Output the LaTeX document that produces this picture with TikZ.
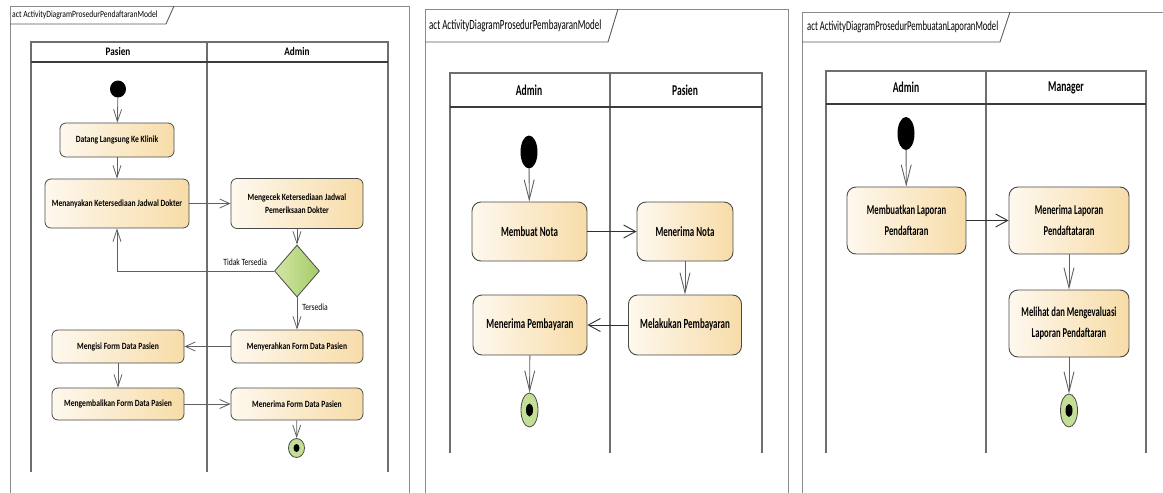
\documentclass[tikz,border=0pt]{standalone}
\usepackage{fontspec}
\setmainfont{Carlito}
\newfontfamily\pA[FakeStretch=0.8]{Carlito}
\newfontfamily\pB[FakeStretch=0.64]{Carlito}
\usetikzlibrary{shapes.geometric,arrows.meta}

\definecolor{frameGray}{HTML}{8A8A8A}
\definecolor{tabGray}{HTML}{5A5A5A}
\definecolor{laneGray}{HTML}{6E6E6E}
\definecolor{headGray}{HTML}{3C3C3C}
\definecolor{boxLine}{HTML}{4A4A4A}
\definecolor{actL}{HTML}{FEF8EE}
\definecolor{actR}{HTML}{F7DCA8}
\definecolor{decL}{HTML}{D3E7A6}
\definecolor{decR}{HTML}{A4CB66}
\definecolor{endGreen}{HTML}{C2DF95}
\definecolor{flowGray}{HTML}{606060}
\definecolor{flowDark}{HTML}{303030}

\tikzset{
  frame/.style={draw=frameGray, line width=1pt},
  tab/.style={draw=tabGray, line width=0.9pt},
  lane/.style={draw=laneGray, line width=1.2pt},
  lanehead/.style={draw=headGray, line width=1.8pt},
  titleA/.style={anchor=west, inner sep=0pt, font=\pA\fontsize{9.5}{11}\selectfont},
  titleB/.style={anchor=west, inner sep=0pt, font=\pB\fontsize{14}{16}\selectfont},
  headA/.style={inner sep=0pt, font=\pA\bfseries\fontsize{11.5}{13}\selectfont},
  headB/.style={inner sep=0pt, font=\pB\bfseries\fontsize{15}{17}\selectfont},
  actA/.style={rectangle, rounded corners=6pt, draw=boxLine, line width=0.8pt,
    left color=actL, right color=actR, align=center, inner sep=1pt,
    font=\pA\bfseries\fontsize{9.5}{13}\selectfont},
  actB/.style={rectangle, rounded corners=9pt, draw=boxLine, line width=0.9pt,
    left color=actL, right color=actR, align=center, inner sep=1pt,
    font=\pB\bfseries\fontsize{14}{21}\selectfont},
  initial/.style={ellipse, fill=black, inner sep=0pt},
  finalA/.style={ellipse, draw=boxLine, line width=0.8pt, fill=endGreen, inner sep=0pt,
    path picture={\fill[black] (path picture bounding box.center) ellipse (3pt and 4pt);}},
  finalB/.style={ellipse, draw=boxLine, line width=0.8pt, fill=endGreen, inner sep=0pt,
    path picture={\fill[black] (path picture bounding box.center) ellipse (3.5pt and 6.5pt);}},
  decision/.style={diamond, draw=boxLine, line width=0.8pt, left color=decL, right color=decR,
    inner sep=0pt},
  guard/.style={inner sep=1pt, font=\pA\fontsize{9.5}{11}\selectfont},
  flowA/.style={draw=flowGray, line width=0.8pt, -{Straight Barb[length=12pt,width=8pt]}},
  flowAh/.style={draw=flowGray, line width=0.8pt, -{Straight Barb[length=10pt,width=9pt]}},
  flowBv/.style={draw=flowGray, line width=0.9pt, -{Straight Barb[length=20pt,width=10pt]}},
  flowBh/.style={draw=flowDark, line width=0.9pt, -{Straight Barb[length=12pt,width=13pt]}},
}

\begin{document}
\begin{tikzpicture}[x=1pt, y=-1pt]
\useasboundingbox (0,0) rectangle (1163,493);

% ---------------- Registration procedure ----------------
\draw[frame] (10,493) -- (10,6) -- (409,6) -- (409,493);
\draw[tab] (10,24) -- (166,24) -- (174,6);
\node[titleA] (t1) at (12,15) {act ActivityDiagramProsedurPendaftaranModel};

\draw[lane] (31,472) -- (31,42) -- (388,42) -- (388,472);
\draw[lane] (207,42) -- (207,472);
\draw[lanehead] (31,62) -- (388,62);
\node[headA] (h1a) at (118,52) {Pasien};
\node[headA] (h1b) at (297,52) {Admin};

\node[initial, minimum width=16pt, minimum height=17pt] (s1) at (118,89) {};
\node[actA, minimum width=114pt, minimum height=34pt] (a1) at (117,140) {Datang Langsung Ke Klinik};
\node[actA, minimum width=144pt, minimum height=49pt] (a2) at (117,203.5) {Menanyakan Ketersediaan Jadwal Dokter};
\node[actA, minimum width=132pt, minimum height=50pt] (a3) at (297,203.5) {Mengecek Ketersediaan Jadwal\\Pemeriksaan Dokter};
\node[decision, minimum width=45pt, minimum height=52pt, aspect=0.87] (d1) at (297,271) {};
\node[actA, minimum width=132pt, minimum height=33pt] (a4) at (118,346.5) {Mengisi Form Data Pasien};
\node[actA, minimum width=132pt, minimum height=33pt] (a5) at (297,346.5) {Menyerahkan Form Data Pasien};
\node[actA, minimum width=132pt, minimum height=32pt] (a6) at (118,404) {Mengembalikan Form Data Pasien};
\node[actA, minimum width=132pt, minimum height=32pt] (a7) at (297,404) {Menerima Form Data Pasien};
\node[finalA, minimum width=16pt, minimum height=19pt] (f1) at (296.5,448) {};

\draw[flowA] (s1) -- (a1);
\draw[flowA] (a1) -- (a2);
\draw[flowAh] (a2) -- (a3);
\draw[flowA] (a3) -- (d1);
\draw[flowA] (d1.west) -| node[guard, pos=0.092, above=4pt] (g1) {Tidak Tersedia} (a2.south);
\draw[flowA] (d1) -- node[guard, pos=0.32, right=4pt] (g2) {Tersedia} (a5);
\draw[flowAh] (a5) -- (a4);
\draw[flowA] (a4) -- (a6);
\draw[flowAh] (a6) -- (a7);
\draw[flowA] (a7) -- (f1);

% ---------------- Payment procedure ----------------
\draw[frame] (425,493) -- (425,9) -- (788,9) -- (788,493);
\draw[tab] (425,42) -- (608,42) -- (618,9);
\node[titleB] (t2) at (429,26) {act ActivityDiagramProsedurPembayaranModel};

\draw[lane] (450,453) -- (450,73) -- (762,73) -- (762,453);
\draw[lane] (610,73) -- (610,453);
\draw[lanehead] (450,107) -- (762,107);
\node[headB] (h2a) at (529,90) {Admin};
\node[headB] (h2b) at (685,90) {Pasien};

\node[initial, minimum width=17pt, minimum height=33pt] (s2) at (529,152) {};
\node[actB, minimum width=115pt, minimum height=59pt] (b1) at (529.5,231.5) {Membuat Nota};
\node[actB, minimum width=96pt, minimum height=59pt] (b2) at (685,231.5) {Menerima Nota};
\node[actB, minimum width=113pt, minimum height=60pt] (b3) at (685,325) {Melakukan Pembayaran};
\node[actB, minimum width=114pt, minimum height=60pt] (b4) at (530,325) {Menerima Pembayaran};
\node[finalB, minimum width=17pt, minimum height=34pt] (f2) at (529.5,410) {};

\draw[flowBv] (s2) -- (b1);
\draw[flowBh] (b1) -- (b2);
\draw[flowBv] (b2) -- (b3);
\draw[flowBh] (b3) -- (b4);
\draw[flowBv] (b4) -- (f2);

% ---------------- Report procedure ----------------
\draw[frame] (802,493) -- (802,12) -- (1163,12);
\draw[tab] (802,42) -- (1000,42) -- (1010,12);
\node[titleB, font=\pB\fontsize{13.5}{16}\selectfont] (t3) at (807,27) {act ActivityDiagramProsedurPembuatanLaporanModel};

\draw[lane] (826,453) -- (826,71) -- (1146,71) -- (1146,453);
\draw[lane] (986,71) -- (986,453);
\draw[lanehead] (826,104) -- (1146,104);
\node[headB] (h3a) at (906,87.5) {Admin};
\node[headB] (h3b) at (1066,87.5) {Manager};

\node[initial, minimum width=17pt, minimum height=33pt] (s3) at (906,133.5) {};
\node[actB, font=\pB\bfseries\fontsize{13.5}{21}\selectfont, minimum width=119pt, minimum height=67pt] (c1) at (906.5,220.5) {Membuatkan Laporan\\Pendaftaran};
\node[actB, font=\pB\bfseries\fontsize{13.5}{21}\selectfont, minimum width=120pt, minimum height=67pt] (c2) at (1069,220.5) {Menerima Laporan\\Pendaftataran};
\node[actB, font=\pB\bfseries\fontsize{13.5}{21}\selectfont, minimum width=120pt, minimum height=67pt] (c3) at (1069,323.5) {Melihat dan Mengevaluasi\\Laporan Pendaftaran};
\node[finalB, minimum width=17pt, minimum height=33pt] (f3) at (1069,410.5) {};

\draw[flowBv] (s3) -- (c1);
\draw[flowBh] (c1) -- (c2);
\draw[flowBv] (c2) -- (c3);
\draw[flowBv] (c3) -- (f3);
\end{tikzpicture}
\end{document}
